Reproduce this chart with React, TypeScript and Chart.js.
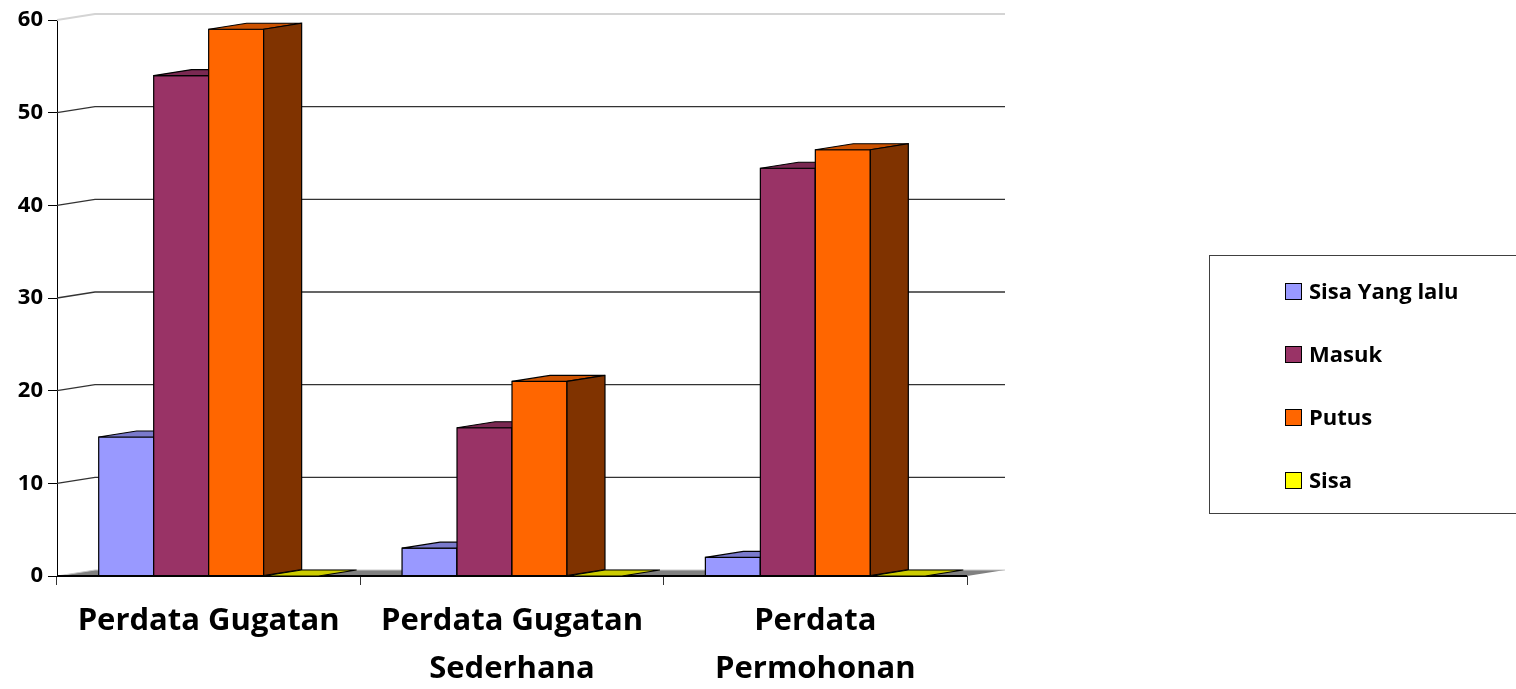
import React, { useEffect, useRef } from "react";
import { Chart, registerables } from "chart.js";

Chart.register(...registerables);

const categories: string[][] = [
  ["Perdata Gugatan"],
  ["Perdata Gugatan", "Sederhana"],
  ["Perdata", "Permohonan"],
];
const seriesNames = ["Sisa Yang lalu", "Masuk", "Putus", "Sisa"];
const sisaYangLalu = [15, 3, 2];
const masuk = [54, 16, 44];
const putus = [59, 21, 46];
const sisa = [0, 0, 0];
const seriesColors = ["#9999FF", "#993366", "#FF6600", "#FFFF00"];
const yTicks = [0, 10, 20, 30, 40, 50, 60];

const DX = 38;
const DY = -6;
const FONT = "'Open Sans', 'DejaVu Sans', sans-serif";

function shade(hex: string, f: number) {
  const n = parseInt(hex.slice(1), 16);
  const r = Math.round(((n >> 16) & 255) * f);
  const g = Math.round(((n >> 8) & 255) * f);
  const b = Math.round((n & 255) * f);
  return `rgb(${r},${g},${b})`;
}

function poly(ctx: CanvasRenderingContext2D, pts: number[][], fill: string | null, stroke: string | null, lw = 1) {
  ctx.beginPath();
  ctx.moveTo(pts[0][0], pts[0][1]);
  for (let i = 1; i < pts.length; i++) ctx.lineTo(pts[i][0], pts[i][1]);
  ctx.closePath();
  if (fill) {
    ctx.fillStyle = fill;
    ctx.fill();
  }
  if (stroke) {
    ctx.strokeStyle = stroke;
    ctx.lineWidth = lw;
    ctx.stroke();
  }
}

const wallPlugin = {
  id: "wall3d",
  beforeDatasetsDraw(chart: any) {
    const ctx: CanvasRenderingContext2D = chart.ctx;
    const { left, right } = chart.chartArea;
    const y = chart.scales.y;
    ctx.save();
    for (const v of yTicks) {
      const py = y.getPixelForValue(v);
      if (v === 0) continue;
      const top = v === yTicks[yTicks.length - 1];
      ctx.strokeStyle = top ? "#d4d4d4" : "#333333";
      ctx.lineWidth = top ? 2 : 1.4;
      ctx.beginPath();
      ctx.moveTo(left, py);
      ctx.lineTo(left + DX, py + DY);
      ctx.lineTo(right + DX, py + DY);
      ctx.stroke();
    }
    const base = y.getPixelForValue(0);
    poly(
      ctx,
      [
        [left, base],
        [right, base],
        [right + DX, base + DY],
        [left + DX, base + DY],
      ],
      "#808080",
      null
    );
    ctx.strokeStyle = "#c8c8c8";
    ctx.lineWidth = 1;
    ctx.beginPath();
    ctx.moveTo(left, base);
    ctx.lineTo(left + DX, base + DY);
    ctx.lineTo(right + DX, base + DY);
    ctx.stroke();
    ctx.strokeStyle = "#000";
    ctx.lineWidth = 2;
    ctx.beginPath();
    ctx.moveTo(left, base);
    ctx.lineTo(right, base);
    ctx.stroke();
    ctx.restore();
  },
  afterDatasetsDraw(chart: any) {
    const ctx: CanvasRenderingContext2D = chart.ctx;
    const n = chart.data.labels.length;
    ctx.save();
    for (let c = 0; c < n; c++) {
      for (let d = 0; d < chart.data.datasets.length; d++) {
        const meta = chart.getDatasetMeta(d);
        const el = meta.data[c];
        if (!el) continue;
        const { x, y, base, width } = el.getProps(["x", "y", "base", "width"], true);
        const l = x - width / 2;
        const r = x + width / 2;
        const col = seriesColors[d];
        if (base - y > 0.5) {
          poly(ctx, [[l, y], [r, y], [r, base], [l, base]], col, "#000", 1.2);
        }
        poly(ctx, [[l, y], [r, y], [r + DX, y + DY], [l + DX, y + DY]], shade(col, 0.8), "#000", 1.2);
        if (base - y > 0.5) {
          poly(ctx, [[r, y], [r + DX, y + DY], [r + DX, base + DY], [r, base]], shade(col, 0.5), "#000", 1.2);
        }
      }
    }
    ctx.restore();
  },
  afterDraw(chart: any) {
    const ctx: CanvasRenderingContext2D = chart.ctx;
    ctx.save();
    ctx.strokeStyle = "#404040";
    ctx.lineWidth = 1;
    ctx.strokeRect(1209.5, 255.5, 320, 258);
    const rows = [292, 355, 418, 481];
    ctx.font = `bold 22px ${FONT}`;
    ctx.textBaseline = "middle";
    ctx.textAlign = "left";
    chart.data.datasets.forEach((ds: any, i: number) => {
      const cy = rows[i];
      ctx.fillStyle = seriesColors[i];
      ctx.fillRect(1285.5, cy - 8.5, 16, 16);
      ctx.strokeStyle = "#000";
      ctx.strokeRect(1285.5, cy - 8.5, 16, 16);
      ctx.fillStyle = "#000";
      ctx.fillText(ds.label, 1309, cy + 1);
    });
    ctx.restore();
  },
};

export default function App() {
  const ref = useRef<HTMLCanvasElement>(null);
  useEffect(() => {
    document.body.style.margin = "0";
    const values = [sisaYangLalu, masuk, putus, sisa];
    const chart = new Chart(ref.current!, {
      type: "bar",
      data: {
        labels: categories,
        datasets: values.map((v, i) => ({
          label: seriesNames[i],
          data: v,
          backgroundColor: seriesColors[i],
          borderColor: "#000",
          borderWidth: 1,
          categoryPercentage: 0.725,
          barPercentage: 1,
        })),
      },
      options: {
        responsive: false,
        animation: false,
        devicePixelRatio: 1,
        layout: { padding: { left: 0, right: 549, top: 20, bottom: 0 } },
        plugins: { legend: { display: false }, tooltip: { enabled: false } },
        scales: {
          x: {
            offset: true,
            grid: {
              display: true,
              offset: true,
              drawOnChartArea: false,
              drawTicks: true,
              tickLength: 9,
              color: "#333",
            },
            border: { display: false },
            ticks: {
              color: "#000",
              font: { family: FONT, size: 31, weight: "bold", lineHeight: 1.52 },
              padding: 13,
              maxRotation: 0,
              minRotation: 0,
              autoSkip: false,
            },
            afterFit: (s: any) => {
              s.height = 113;
            },
          },
          y: {
            min: 0,
            max: 60,
            ticks: {
              stepSize: 10,
              color: "#000",
              font: { family: FONT, size: 22, weight: "bold" },
              padding: 5,
            },
            grid: { drawOnChartArea: false, drawTicks: true, tickLength: 9, color: "#000" },
            border: { display: true, color: "#000", width: 1 },
            afterFit: (s: any) => {
              s.width = 57;
            },
          },
        },
      },
      plugins: [wallPlugin],
    });
    return () => chart.destroy();
  }, []);
  return (
    <div style={{ position: "fixed", left: 0, top: 0, width: 1516, height: 689, background: "#fff" }}>
      <canvas ref={ref} width={1516} height={689} />
    </div>
  );
}
